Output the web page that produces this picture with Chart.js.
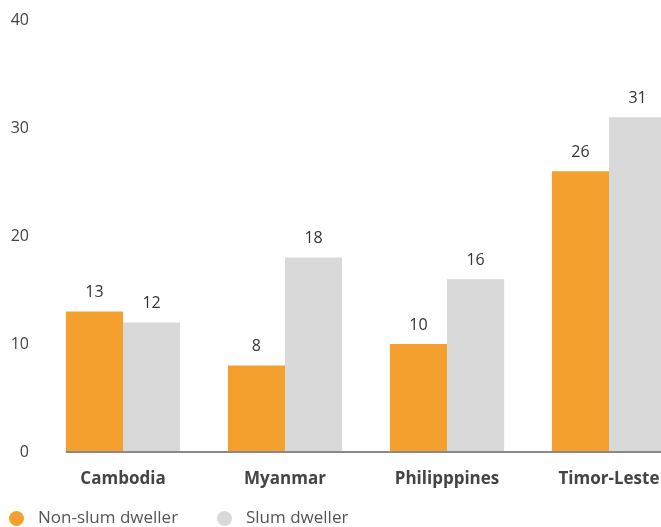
<!DOCTYPE html>
<html>
<head>
<meta charset="utf-8">
<script src="https://cdn.jsdelivr.net/npm/chart.js@4.4.1/dist/chart.umd.min.js"></script>
<style>
  html, body { margin: 0; padding: 0; background: #fff; overflow: hidden; }
  #wrap { position: relative; width: 690px; height: 527px; }
  #legend { position: absolute; left: 0; top: 506px; font-family: "Open Sans", sans-serif; font-size: 17px; color: #555; }
  #legend span.item { position: absolute; white-space: nowrap; line-height: 22px; }
  #legend span.dot { position: absolute; width: 15px; height: 15px; border-radius: 50%; top: 5px; }
</style>
</head>
<body>
<div id="wrap">
  <canvas id="barChart" width="690" height="527"></canvas>
  <div id="legend"></div>
</div>
<script>
const categories = ['Cambodia', 'Myanmar', 'Philipppines', 'Timor-Leste'];
const nonSlum = [13, 8, 10, 26];
const slum = [12, 18, 16, 31];
const yTicks = [0, 10, 20, 30, 40];

const orange = '#F4A02F';
const grey = '#D9D9D9';
const fontFamily = '"Open Sans", sans-serif';

// value labels above each bar
const valueLabels = {
    id: 'valueLabels',
    afterDatasetsDraw(chart) {
        const ctx = chart.ctx;
        ctx.save();
        ctx.font = '16px ' + fontFamily;
        ctx.fillStyle = '#333';
        ctx.textAlign = 'center';
        ctx.textBaseline = 'middle';
        chart.data.datasets.forEach((ds, i) => {
            chart.getDatasetMeta(i).data.forEach((bar, j) => {
                ctx.fillText(ds.data[j], bar.x, bar.y - 19);
            });
        });
        ctx.restore();
    }
};

// baseline under the bars, starting at the first bar
const baseLine = {
    id: 'baseLine',
    afterDatasetsDraw(chart) {
        const ctx = chart.ctx;
        const first = chart.getDatasetMeta(0).data[0];
        const y = chart.scales.y.getPixelForValue(0);
        ctx.save();
        ctx.strokeStyle = '#8a8a8a';
        ctx.lineWidth = 2;
        ctx.beginPath();
        ctx.moveTo(first.x - first.width / 2, y);
        ctx.lineTo(chart.chartArea.right, y);
        ctx.stroke();
        ctx.restore();
    }
};

const ctx = document.getElementById('barChart').getContext('2d');
const barChart = new Chart(ctx, {
    type: 'bar',
    data: {
        labels: categories,
        datasets: [{
            label: 'Non-slum dweller',
            data: nonSlum,
            backgroundColor: orange
        }, {
            label: 'Slum dweller',
            data: slum,
            backgroundColor: grey
        }]
    },
    options: {
        responsive: false,
        animation: false,
        layout: { padding: { top: 20, right: 0, bottom: 0, left: 0 } },
        categoryPercentage: 0.705,
        barPercentage: 1,
        plugins: {
            legend: { display: false },
            tooltip: { enabled: false }
        },
        scales: {
            x: {
                grid: { display: false, drawTicks: false },
                border: { display: false },
                ticks: {
                    padding: 17,
                    color: '#444',
                    font: { family: fontFamily, size: 17, weight: 'bold' }
                },
                afterFit: (scale) => { scale.height = 75; }
            },
            y: {
                min: 0,
                max: 40,
                grid: { display: false, drawTicks: false },
                border: { display: false },
                afterBuildTicks: (scale) => { scale.ticks = yTicks.map(v => ({ value: v })); },
                ticks: {
                    padding: 13,
                    color: '#444',
                    font: { family: fontFamily, size: 16 }
                },
                afterFit: (scale) => {
                    scale.width = 42;
                    scale.paddingTop = 0;
                    scale.paddingBottom = 0;
                }
            }
        }
    },
    plugins: [valueLabels, baseLine]
});

// html legend
const legend = document.getElementById('legend');
const legendX = [9, 217];
barChart.data.datasets.forEach((ds, i) => {
    const item = document.createElement('span');
    item.className = 'item';
    item.style.left = legendX[i] + 'px';
    item.innerHTML = '<span class="dot" style="left:0;background:' + ds.backgroundColor + '"></span>' +
        '<span style="padding-left:29px">' + ds.label + '</span>';
    legend.appendChild(item);
});
</script>
</body>
</html>
